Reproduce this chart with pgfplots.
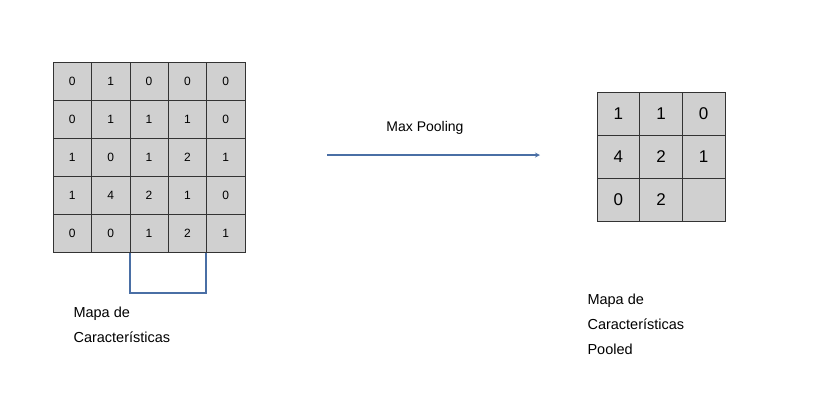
\documentclass[border=0pt]{standalone}
\usepackage{pgfplots}
\pgfplotsset{compat=1.18}
\usepackage{fontspec}
\setmainfont{Liberation Sans}
\definecolor{cellgray}{HTML}{D0D0D0}
\definecolor{bl}{HTML}{4A6FA5}
\begin{document}
\begin{tikzpicture}
\begin{axis}[scale only axis, width=817pt, height=405pt,
  xmin=0,xmax=817,ymin=0,ymax=405, y dir=reverse, axis lines=none, clip=false]
\addplot[draw=none] coordinates {(0,0)(817,405)};
% left grid
\addplot[only marks, mark=square*, mark size=19.2pt, mark options={fill=cellgray, draw=black!80, line width=0.6pt},
  nodes near coords, point meta=explicit symbolic, nodes near coords align=center,
  every node near coord/.append style={font=\fontsize{12}{14}\selectfont, anchor=center}]
table[meta=l] {
x y l
72.2 81 0
110.6 81 1
149 81 0
187.4 81 0
225.8 81 0
72.2 119 0
110.6 119 1
149 119 1
187.4 119 1
225.8 119 0
72.2 157 1
110.6 157 0
149 157 1
187.4 157 2
225.8 157 1
72.2 195 1
110.6 195 4
149 195 2
187.4 195 1
225.8 195 0
72.2 233 0
110.6 233 0
149 233 1
187.4 233 2
225.8 233 1
};
% right grid
\addplot[only marks, mark=square*, mark size=21.4pt, mark options={fill=cellgray, draw=black!80, line width=0.6pt}]
coordinates {(618.3,113.5)(661,113.5)(703.7,113.5)(618.3,156.5)(661,156.5)(703.7,156.5)(618.3,199.5)(661,199.5)(703.7,199.5)};
\addplot[only marks, mark=none,
  nodes near coords, point meta=explicit symbolic, nodes near coords align=center,
  every node near coord/.append style={font=\fontsize{17}{20}\selectfont, anchor=center}]
table[meta=l] {
x y l
618.3 113.5 1
661 113.5 1
703.7 113.5 0
618.3 156.5 4
661 156.5 2
703.7 156.5 1
618.3 199.5 0
661 199.5 2
};
\addplot[bl, line width=1.6pt] coordinates {(130,213)(206,213)(206,293)(130,293)(130,213)};
\addplot[bl, line width=1.2pt, -stealth] coordinates {(327,155)(540,155)};
\node[anchor=center, font=\fontsize{14}{16}\selectfont] at (axis cs:425,128) {Max Pooling};
\node[anchor=north west, align=left, font=\fontsize{14.5}{25}\selectfont] at (axis cs:70,303) {Mapa de\\Características};
\node[anchor=north west, align=left, font=\fontsize{14.5}{25}\selectfont] at (axis cs:584,290) {Mapa de\\Características\\Pooled};
\end{axis}
\end{tikzpicture}
\end{document}
